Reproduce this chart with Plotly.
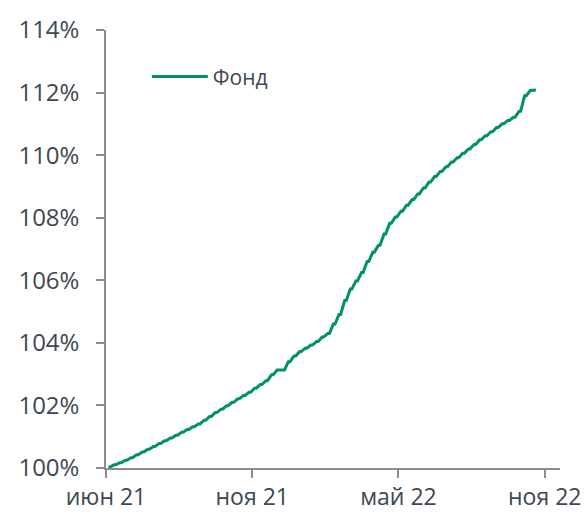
import plotly.graph_objects as go
import pandas as pd

# Weekly fund values (% of initial, Friday NAV)
start_date = "2021-06-04"
values = [
    100.03, 100.10, 100.17, 100.25, 100.33, 100.42, 100.51, 100.60, 100.69, 100.78,
    100.87, 100.96, 101.05, 101.14, 101.23, 101.32, 101.41, 101.53, 101.65, 101.77,
    101.88, 101.99, 102.10, 102.21, 102.32, 102.42, 102.55, 102.67, 102.79, 102.98,
    103.13, 103.13, 103.40, 103.58, 103.72, 103.83, 103.93, 104.04, 104.19, 104.30,
    104.60, 104.91, 105.35, 105.72, 105.98, 106.25, 106.60, 106.90, 107.12, 107.48,
    107.82, 108.02, 108.21, 108.40, 108.58, 108.76, 108.95, 109.14, 109.32, 109.48,
    109.63, 109.78, 109.92, 110.06, 110.20, 110.34, 110.49, 110.62, 110.75, 110.88,
    111.00, 111.11, 111.21, 111.40, 111.90, 112.07, 112.08,
]
fridays = pd.date_range(start_date, periods=len(values), freq="7D")

series_name = "Фонд"
x_tick_vals = ["2021-06-01", "2021-11-30", "2022-05-31", "2022-11-29"]
x_tick_text = ["июн 21", "ноя 21", "май 22", "ноя 22"]
y_tick_vals = [100, 102, 104, 106, 108, 110, 112, 114]
y_tick_text = ["100%", "102%", "104%", "106%", "108%", "110%", "112%", "114%"]

# NAV is not computed on weekends: Friday's value is held until Sunday
plot_x, plot_y = [], []
for i, (d, v) in enumerate(zip(fridays, values)):
    plot_x.append(d)
    plot_y.append(v)
    if i < len(values) - 1:
        plot_x.append(d + pd.Timedelta(days=2))
        plot_y.append(v)

GREEN = "#00925F"
TEXT = "#3D4852"
AXIS = "#8C8C8C"
FONT = "Open Sans"

fig = go.Figure()
fig.add_trace(go.Scatter(
    x=plot_x, y=plot_y, mode="lines", name=series_name,
    line=dict(color=GREEN, width=3),
))

fig.update_layout(
    width=587, height=513,
    margin=dict(l=106, r=27, t=30, b=45),
    paper_bgcolor="white", plot_bgcolor="white",
    font=dict(family=FONT, color=TEXT, size=24),
    showlegend=True,
    legend=dict(x=0.09, y=0.893, xanchor="left", yanchor="middle",
                font=dict(size=21, color=TEXT, family=FONT),
                itemwidth=56,
                bgcolor="rgba(0,0,0,0)"),
)
fig.update_xaxes(
    type="date", range=["2021-06-01", "2022-12-18"],
    tickvals=x_tick_vals, ticktext=x_tick_text,
    showgrid=False, zeroline=False, automargin=False,
    showline=True, linecolor=AXIS, linewidth=1.5,
    ticks="outside", ticklen=8, tickcolor=AXIS, tickwidth=1.5,
    tickfont=dict(size=23, color=TEXT, family=FONT),
    ticklabelstandoff=0,
)
fig.update_yaxes(
    range=[100, 114],
    tickvals=y_tick_vals, ticktext=y_tick_text,
    showgrid=False, zeroline=False, automargin=False,
    showline=True, linecolor=AXIS, linewidth=1.5,
    ticks="outside", ticklen=8, tickcolor=AXIS, tickwidth=1.5,
    tickfont=dict(size=24, color=TEXT, family=FONT),
    ticklabelstandoff=12,
)

fig.write_html("out.html", config={"displayModeBar": False})

# remove the browser's default page margin so the figure sits at the window origin
with open("out.html", encoding="utf-8") as f:
    html = f.read()
html = html.replace("<head>", "<head><style>html,body{margin:0;padding:0;overflow:hidden;}</style>", 1)
with open("out.html", "w", encoding="utf-8") as f:
    f.write(html)
